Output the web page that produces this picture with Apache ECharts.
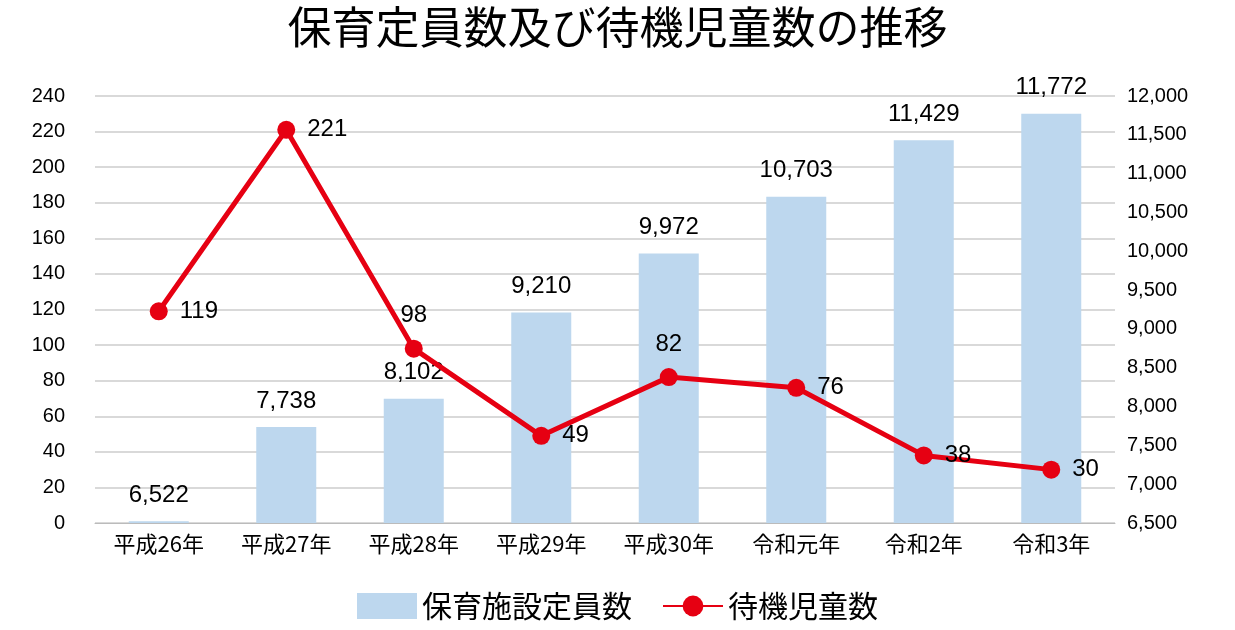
<!DOCTYPE html>
<html><head><meta charset="utf-8">
<script src="https://cdn.jsdelivr.net/npm/echarts@6/dist/echarts.min.js"></script>
<style>html,body{margin:0;background:#fff}#c{width:1235px;height:630px}</style>
</head><body><div id="c"></div>
<script>
const categories = ["平成26年","平成27年","平成28年","平成29年","平成30年","令和元年","令和2年","令和3年"];
const capacity = [6522, 7738, 8102, 9210, 9972, 10703, 11429, 11772];
const waiting = [119, 221, 98, 49, 82, 76, 38, 30];
const waitingLabelPos = ["right","right","top","right","top","right","right","right"];

const font = "'Noto Sans CJK JP', sans-serif";
const chart = echarts.init(document.getElementById("c"));
chart.setOption({
  textStyle: { fontFamily: font },
  title: { text: "保育定員数及び待機児童数の推移", left: "center", top: 0,
    textStyle: { fontSize: 44, fontWeight: "normal", color: "#000", fontFamily: font } },
  grid: { left: 95, right: 120, top: 96, bottom: 107 },
  legend: { bottom: 4, itemWidth: 60, itemHeight: 26, itemGap: 30,
    textStyle: { fontSize: 30, color: "#000", fontFamily: font },
    data: [{ name: "保育施設定員数", icon: "rect" }, "待機児童数"] },
  xAxis: { type: "category", data: categories,
    axisLine: { lineStyle: { color: "#bbb" } }, axisTick: { show: false },
    axisLabel: { fontSize: 22, color: "#000", fontFamily: font, margin: 10 } },
  yAxis: [
    { type: "value", min: 0, max: 240, interval: 20,
      axisLabel: { fontSize: 20, color: "#000", fontFamily: "Arial, Liberation Sans", margin: 30 },
      splitLine: { lineStyle: { color: "#ccc", width: 1.5 } } },
    { type: "value", min: 6500, max: 12000, interval: 500,
      axisLabel: { fontSize: 20, color: "#000", fontFamily: "Arial, Liberation Sans", margin: 12,
        formatter: v => v.toLocaleString("en-US") },
      splitLine: { show: false } }
  ],
  series: [
    { name: "保育施設定員数", type: "bar", yAxisIndex: 1, data: capacity, barWidth: 60,
      itemStyle: { color: "#bdd7ee" },
      label: { show: true, position: "top", distance: 14, fontSize: 24, color: "#000",
        fontFamily: "Arial, Liberation Sans", formatter: p => p.value.toLocaleString("en-US") } },
    { name: "待機児童数", type: "line", yAxisIndex: 0,
      data: waiting.map((v, i) => ({ value: v, label: { position: waitingLabelPos[i] } })),
      symbol: "circle", symbolSize: 18,
      lineStyle: { color: "#e60012", width: 5 }, itemStyle: { color: "#e60012" },
      label: { show: true, distance: 12, fontSize: 24, color: "#000",
        fontFamily: "Arial, Liberation Sans" } }
  ]
});
</script></body></html>
